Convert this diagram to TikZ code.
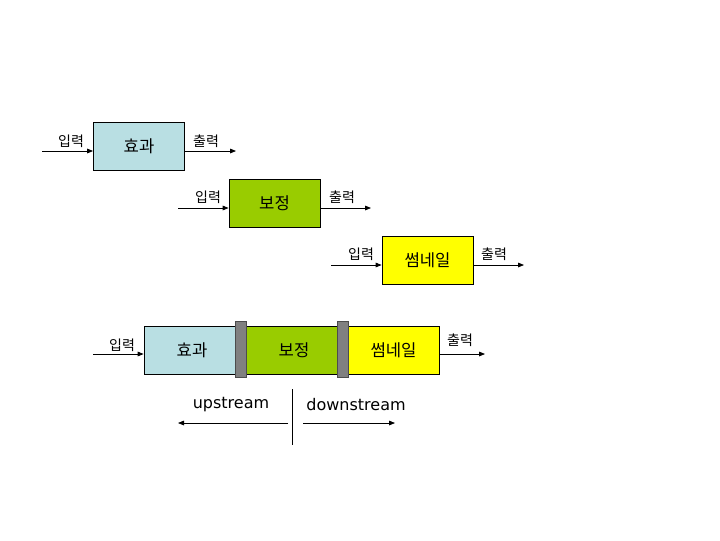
\documentclass[tikz,border=0pt]{standalone}
\usepackage{fontspec}
\setmainfont{Noto Sans CJK KR}
\newfontfamily\engfont{DejaVu Sans}
\usetikzlibrary{arrows.meta}
\definecolor{lblue}{HTML}{B9DFE3}
\definecolor{lgreen}{HTML}{99CC00}
\definecolor{lyellow}{HTML}{FFFF00}
\definecolor{bargray}{HTML}{808080}
\begin{document}
\begin{tikzpicture}[x=0.75pt,y=-0.75pt,
  blk/.style={draw=black, line width=0.6pt, minimum width=68.25pt, minimum height=36pt, inner sep=0pt, font=\fontsize{12.5}{14}\selectfont},
  bar/.style={draw=black!70, fill=bargray, line width=0.5pt, minimum width=8.25pt, minimum height=42pt, inner sep=0pt},
  arr/.style={-{Triangle[length=4.5pt,width=3.5pt]}, line width=0.6pt},
  lab/.style={font=\fontsize{10.5}{12}\selectfont, inner sep=0pt},
  eng/.style={font=\engfont\fontsize{12}{14}\selectfont, inner sep=0pt}]
\path[use as bounding box] (0,0) rectangle (720,540);
% row 1
\node[blk, fill=lblue] (e1) at (139,146) {효과};
\coordinate (e1in) at (42,151);
\coordinate (e1out) at (236,151);
\draw[arr] (e1in) -- (e1in -| e1.west);
\draw[arr] (e1out -| e1.east) -- (e1out);
\node[lab] (l1) at (71,141) {입력};
\node[lab] (o1) at (206,141) {출력};
% row 2
\node[blk, fill=lgreen] (c2) at (274.5,203) {보정};
\coordinate (c2in) at (178,208);
\coordinate (c2out) at (371,208);
\draw[arr] (c2in) -- (c2in -| c2.west);
\draw[arr] (c2out -| c2.east) -- (c2out);
\node[lab] (l2) at (208,197) {입력};
\node[lab] (o2) at (342,197) {출력};
% row 3
\node[blk, fill=lyellow] (t3) at (427.5,260) {썸네일};
\coordinate (t3in) at (331,265);
\coordinate (t3out) at (524,265);
\draw[arr] (t3in) -- (t3in -| t3.west);
\draw[arr] (t3out -| t3.east) -- (t3out);
\node[lab] (l3) at (361,254) {입력};
\node[lab] (o3) at (494,254) {출력};
% combined
\node[blk, fill=lblue, minimum width=72pt] (be) at (192,350) {효과};
\node[blk, fill=lgreen, minimum width=72pt] (bc) at (294,350) {보정};
\node[blk, fill=lyellow, minimum width=68.25pt] (bt) at (393.5,350) {썸네일};
\node[bar] (b1) at (240.5,349) {};
\node[bar] (b2) at (342.5,349) {};
\coordinate (bin) at (93,354);
\coordinate (bout) at (485,354);
\draw[arr] (bin) -- (bin -| be.west);
\draw[arr] (bout -| bt.east) -- (bout);
\node[lab] (l4) at (122,345) {입력};
\node[lab] (o4) at (460,340) {출력};
% upstream / downstream
\coordinate (vtop) at (292,389);
\coordinate (vbot) at (292,445);
\draw[line width=0.6pt] (vtop) -- (vbot);
\node[eng] (up) at (231,405) {upstream};
\node[eng] (down) at (356,405) {downstream};
\coordinate (ua) at (288,423);
\coordinate (ub) at (178,423);
\coordinate (da) at (303,423);
\coordinate (db) at (395,423);
\draw[arr] (ua) -- (ub);
\draw[arr] (da) -- (db);
\end{tikzpicture}
\end{document}
